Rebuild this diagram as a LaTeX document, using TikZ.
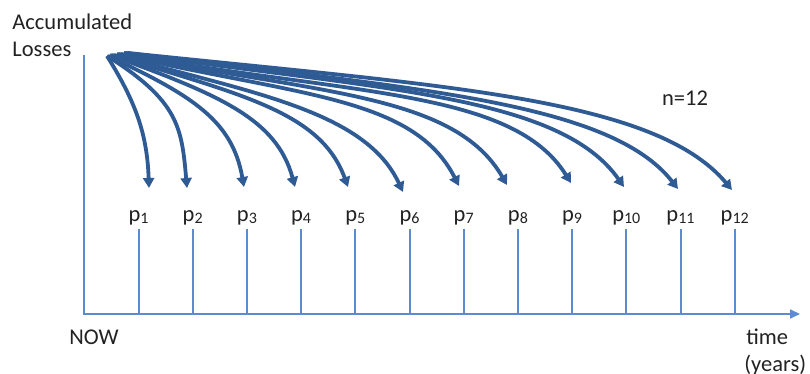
\documentclass[tikz,border=0pt]{standalone}
\usepackage{fontspec}
\setmainfont{Carlito}
\usetikzlibrary{arrows.meta, positioning}
\definecolor{LossInk}{HTML}{2F5B95}
\definecolor{AxisInk}{HTML}{5B8BD0}
\definecolor{TextInk}{HTML}{222222}
\newcommand{\psub}[1]{\raisebox{-1pt}{\fontsize{8}{8}\selectfont#1}}

\begin{document}
\begin{tikzpicture}[
    x=0.5pt, y=0.5pt,
    font=\fontsize{11.25}{13.5}\selectfont,
    lbl/.style={inner sep=0pt, text=TextInk},
    axis/.style={draw=AxisInk, line width=1pt},
    flow/.style={
      draw=LossInk,
      line width=1.9pt,
      -{Triangle[length=5pt, width=5.5pt]},
    },
  ]
    \useasboundingbox (0,0) rectangle (810,374);

    % axes
    \coordinate (origin) at (84,60);
    \coordinate (ytop) at (84,319);
    \coordinate (xend) at (800,60);
    \draw[axis, -{Triangle[length=5pt, width=4.5pt]}] (ytop) |- (xend);

    \node[lbl, anchor=base west] (acc) at (12,344) {Accumulated};
    \node[lbl, anchor=base west] (loss) at (12,317) {Losses};
    \node[lbl] (now) at (94,37) {NOW};
    \node[lbl, anchor=west] (time) at (746,37) {time};
    \node[lbl, anchor=west] (years) at (744,9) {(years)};
    \node[lbl] (count) at (685,276) {n=12};

    % payment dates
    \foreach \i in {1,...,12} {
      \pgfmathsetmacro{\px}{138.5+54.2*(\i-1)}
      \node[lbl, anchor=base] (p\i) at (\px,152) {p\psub{\i}};
      \draw[axis] (\px,60) -- (\px,145);
    }

    % losses carried forward to each date
    \foreach \i/\sx/\sy/\tx/\ty/\o/\n/\lo/\li in {
        1/107/318/149/186/-58/92/1/1,
        2/107/318/187/186/-32/95/1.4/1,
        3/108/318/244/187/-25/100/1.3/0.9,
        4/110/319/295/187/-20/105/1.3/0.8,
        5/112/319/348/187/-17/110/1.3/0.75,
        6/114/319/403/182/-15/115/1.2/0.7,
        7/117/320/459/188/-13/117/1.3/0.7,
        8/119/320/507/189/-11/120/1.3/0.65,
        9/121/320/571/191/-10/122/1.3/0.6,
        10/124/321/624/187/-8/125/1.3/0.55,
        11/126/321/678/185/-7/128/1.3/0.5,
        12/128/321/732/184/-6/130/1.3/0.5} {
      \coordinate (s\i) at (\sx,\sy);
      \coordinate (t\i) at (\tx,\ty);
      \draw[flow] (s\i) to[out=\o, in=\n, out looseness=\lo, in looseness=\li] (t\i);
    }
  \end{tikzpicture}
\end{document}
